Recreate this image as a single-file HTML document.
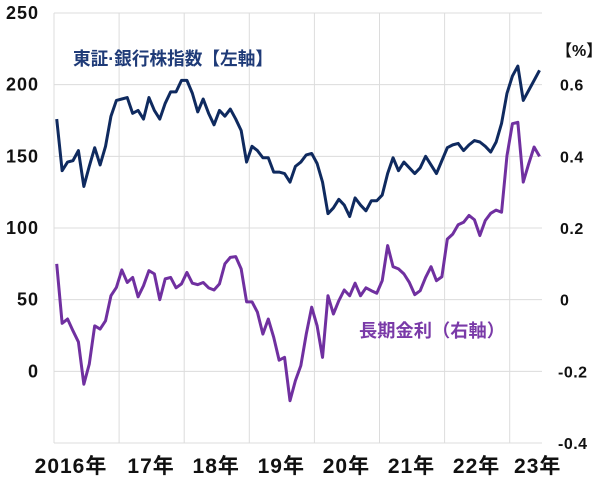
<!DOCTYPE html>
<html><head><meta charset="utf-8"><style>
html,body{margin:0;padding:0;background:#fff;}
svg text{font-family:"Liberation Sans","Noto Sans CJK JP",sans-serif;font-weight:bold;}
</style></head><body>
<svg id="chart" width="600" height="478" viewBox="0 0 600 478" xmlns="http://www.w3.org/2000/svg">
<g id="grid"></g><g id="axes"></g><g id="series"></g>
<text x="73" y="65" font-size="18" fill="#1f3b78" textLength="200" lengthAdjust="spacingAndGlyphs">東証·銀行株指数【左軸】</text>
<text x="359" y="337" font-size="18" fill="#7a3aa8" textLength="146" lengthAdjust="spacingAndGlyphs">長期金利（右軸）</text>
<text x="556" y="56" font-size="16" fill="#111">【%】</text>
</svg>
<script>
const years = ["2016年","17年","18年","19年","20年","21年","22年","23年"];
const leftTicks = [250,200,150,100,50,0];
const rightTicks = [0.6,0.4,0.2,0,-0.2,-0.4];
const bankIndex = [176,140,146,147,154,129,143,156,144,157,178,189,
190,191,180,182,176,191,182,176,187,195,195,203,
203,194,181,190,180,172,182,178,183,176,168,146,
157,154,149,149,139,139,138,132,143,146,151,152,
145,132,110,114,120,116,108,121,116,112,119,119,
123,138,149,140,146,142,138,142,150,144,138,147,
156,158,159,154,158,161,160,157,153,160,173,194,
206,213,189,196,203,210];
const yieldPct = [0.10,-0.066,-0.054,-0.087,-0.118,-0.236,-0.18,-0.073,-0.082,-0.059,0.011,0.034,
0.083,0.048,0.062,0.008,0.039,0.081,0.072,0.0,0.058,0.062,0.033,0.044,
0.076,0.046,0.042,0.048,0.033,0.027,0.044,0.10,0.118,0.12,0.086,-0.006,
-0.006,-0.035,-0.096,-0.054,-0.105,-0.169,-0.161,-0.282,-0.226,-0.184,-0.096,-0.021,
-0.073,-0.161,0.011,-0.04,-0.003,0.027,0.011,0.046,0.011,0.033,0.025,0.018,
0.053,0.151,0.092,0.086,0.072,0.048,0.014,0.025,0.062,0.092,0.053,0.064,
0.169,0.183,0.209,0.216,0.235,0.223,0.179,0.221,0.241,0.25,0.244,0.402,
0.491,0.495,0.328,0.379,0.426,0.40];

const NS="http://www.w3.org/2000/svg";
const X0=54, X1=542, YT=13, YB=443;
const yearW=65.1, monthW=yearW/12;
const xM = m => X0+(m+0.5)*monthW;
const yL = v => YT+(250-v)*(YB-YT)/300;
const yR = v => YT+(0.8-v)*(YB-YT)/1.2;
function mk(tag,attrs,parent){const e=document.createElementNS(NS,tag);for(const k in attrs)e.setAttribute(k,attrs[k]);parent.appendChild(e);return e;}
const grid=document.getElementById('grid'), axes=document.getElementById('axes'), series=document.getElementById('series');
[250,200,150,100,50,0,-50].forEach(v=>{
  const l=mk('line',{x1:X0,x2:X1,y1:yL(v),y2:yL(v),stroke:'#dcdcdc','stroke-width':1},grid);
  
  
});
years.forEach((t,i)=>{
  const x=X0+i*yearW;
  const l=mk('line',{x1:x,x2:x,y1:YT,y2:YB,stroke:'#dcdcdc','stroke-width':1},grid);
  
  
  const tx=mk('text',{x:i==0?X0+17:x+(i==7?28:32),y:473,'font-size':21,fill:'#111','text-anchor':'middle','letter-spacing':1},axes);
  tx.textContent=t;
  
  
});
leftTicks.forEach(v=>{
  const t=mk('text',{x:39,y:yL(v)+6,'font-size':18,fill:'#111','text-anchor':'end','letter-spacing':1},axes);
  t.textContent=v;
  
  
});
rightTicks.forEach(v=>{
  const t=mk('text',{x:v<0?558:560,y:yR(v)+6,'font-size':16,fill:'#111','letter-spacing':0.5},axes);
  t.textContent=String(v);
  
  
});
const p1=mk('polyline',{points:bankIndex.map((v,i)=>xM(i)+','+yL(v)).join(' '),fill:'none',stroke:'#0f2a5f','stroke-width':3,'stroke-linejoin':'round'},series);


const p2=mk('polyline',{points:yieldPct.map((v,i)=>xM(i)+','+yR(v)).join(' '),fill:'none',stroke:'#7030a0','stroke-width':3,'stroke-linejoin':'round'},series);


</script>
</body></html>
